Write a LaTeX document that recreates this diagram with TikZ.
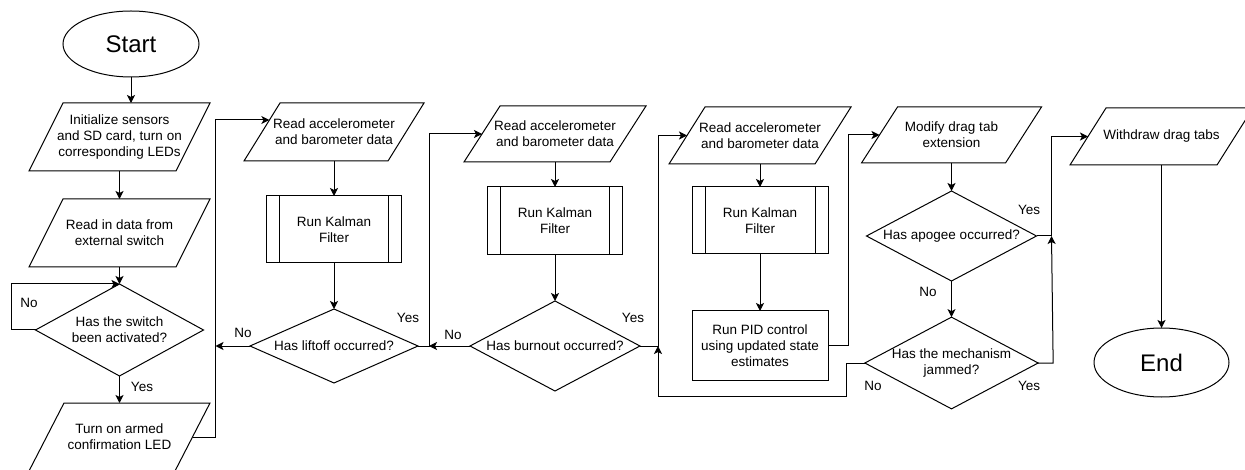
\documentclass[tikz,border=0pt]{standalone}
\usepackage{fontspec}
\setmainfont{Liberation Sans}
\usetikzlibrary{shapes.geometric,arrows.meta,calc}
\newcommand\dtxt{\fontsize{13.5}{16}\selectfont}
\newcommand\drawPara[2]{%
  \draw[outline] ([xshift=#2pt]#1.north west) -- ([xshift=#2pt]#1.north east) --
    ([xshift=-#2pt]#1.south east) -- ([xshift=-#2pt]#1.south west) -- cycle;}
\tikzset{
  outline/.style={draw=black, line width=1pt, line join=miter},
  conn/.style={draw=black, line width=1pt},
  arr/.style={conn, -{Stealth[length=8pt,width=8pt,inset=2pt]}},
  para/.style={rectangle, draw=none, inner sep=0pt, outer sep=0pt,
    minimum width=146pt, minimum height=#1, align=center, font=\dtxt},
  sub/.style={rectangle, draw=black, line width=1pt, inner sep=0pt, outer sep=0pt,
    minimum width=135pt, minimum height=68pt, align=center, font=\dtxt,
    path picture={\draw[line width=1pt]
      ([xshift=13pt]path picture bounding box.north west) -- ([xshift=13pt]path picture bounding box.south west)
      ([xshift=-13pt]path picture bounding box.north east) -- ([xshift=-13pt]path picture bounding box.south east);}},
  proc/.style={rectangle, draw=black, line width=1pt, inner sep=0pt, outer sep=0pt,
    minimum width=136pt, minimum height=69pt, align=center, font=\dtxt},
  dec/.style={diamond, draw=black, line width=1pt, inner sep=0pt, outer sep=0pt,
    align=center, font=\dtxt},
  term/.style={ellipse, draw=black, line width=1pt, inner sep=0pt, outer sep=0pt,
    minimum width=136pt, minimum height=66pt, font=\fontsize{24}{28}\selectfont},
  lab/.style={inner sep=0pt, font=\dtxt}
}
\begin{document}
\begin{tikzpicture}[x=1pt,y=-1pt]
\fill[white] (0,0) rectangle (1245,470);
\useasboundingbox (0,0) rectangle (1245,470);

% column 1
\node[term] (start) at (131,44) {Start};
\node[para=68pt, minimum width=147pt] (init) at (119.5,137) {Initialize sensors\\and SD card, turn on\\corresponding LEDs};
\drawPara{init}{17}
\node[para=68pt, minimum width=147pt] (readin) at (119.5,233) {Read in data from\\external switch};
\drawPara{readin}{17}
\node[dec, minimum width=168pt, minimum height=92pt, shape aspect=1.83] (switch) at (119.5,330) {Has the switch\\been activated?};
\node[para=68pt] (arm) at (119.5,437) {Turn on armed\\confirmation LED};
\drawPara{arm}{17.5}

% column 2
\node[para=58pt, minimum width=144pt] (read1) at (334,132) {Read accelerometer\\and barometer data};
\drawPara{read1}{18}
\node[sub, minimum height=67pt] (k1) at (334,229.5) {Run Kalman\\Filter};
\node[dec, minimum width=168pt, minimum height=74pt, shape aspect=2.27] (lift) at (334,346) {Has liftoff occurred?};

% column 3
\node[para=56pt] (read2) at (555,134) {Read accelerometer\\and barometer data};
\drawPara{read2}{18}
\node[sub] (k2) at (555,221) {Run Kalman\\Filter};
\node[dec, minimum width=170pt, minimum height=90pt, shape aspect=1.89] (burn) at (555,346) {Has burnout occurred?};

% column 4
\node[para=57pt] (read3) at (760,135.5) {Read accelerometer\\and barometer data};
\drawPara{read3}{18}
\node[sub, minimum width=136pt, minimum height=67pt] (k3) at (760,220.5) {Run Kalman\\Filter};
\node[proc] (pid) at (760,345.5) {Run PID control\\using updated state\\estimates};

% column 5
\node[para=56pt, minimum width=144pt] (modify) at (951.5,135) {Modify drag tab\\extension};
\drawPara{modify}{18}
\node[dec, minimum width=170pt, minimum height=90pt, shape aspect=1.89] (apogee) at (951.5,236) {Has apogee occurred?};
\node[dec, minimum width=170pt, minimum height=90pt, shape aspect=1.89] (jam) at (951.5,363) {Has the mechanism\\jammed?};

% column 6
\node[para=57pt, minimum width=147pt] (withdraw) at (1161.5,136.5) {Withdraw drag tabs};
\drawPara{withdraw}{18}
\node[term, minimum width=135pt, minimum height=69pt] (end) at (1161.5,362.5) {End};

% connectors column 1
\draw[arr] (start.south) -- (start.south |- init.north);
\draw[arr] (init.south) -- (readin.north);
\draw[arr] (readin.south) -- (switch.north);
\draw[arr] (switch.west) -- ++(-24,0) |- (switch.north);
\draw[arr] (switch.south) -- (arm.north);
\draw[arr] (arm.east) -- ++(23,0) coordinate (j1) |- ($(read1.west)+(7.4,-12)$);

% column 2
\draw[arr] (read1.south) -- (k1.north);
\draw[arr] (k1.south) -- (lift.north);
\draw[arr] (lift.west) -- (lift.west -| j1);
\draw[arr] (lift.east) -- ++(11,0) coordinate (j2) |- (read2.west);

% column 3
\draw[arr] (read2.south) -- (k2.north);
\draw[arr] (k2.south) -- (burn.north);
\draw[arr] (burn.west) -- (burn.west -| j2);
\draw[arr] (burn.east) -- ++(18,0) coordinate (j3) |- (read3.west);

% column 4
\draw[arr] (read3.south) -- (k3.north);
\draw[arr] (k3.south) -- (pid.north);
\draw[arr] (pid.east) -- ++(20,0) |- (modify.west);

% column 5
\draw[arr] (modify.south) -- (apogee.north);
\draw[arr] (apogee.south) -- (jam.north);
\draw[arr] (apogee.east) -- ++(15,0) coordinate (j4) |- (withdraw.west);
\draw[arr] (jam.east) -- ++(15,0) -- (j4);
\draw[arr] (jam.west) -- ++(-18,0) -- ++(0,33) -| (j3);

% column 6
\draw[arr] (withdraw.south) -- (end.north);

% labels
\node[lab] (lNo1) at (29,303) {No};
\node[lab] (lYes1) at (142,387) {Yes};
\node[lab] (lNo2) at (243,333) {No};
\node[lab] (lYes2) at (408,318) {Yes};
\node[lab] (lNo3) at (453,335) {No};
\node[lab] (lYes3) at (633,318) {Yes};
\node[lab] (lYes4) at (1029,210) {Yes};
\node[lab] (lNo4) at (928,292) {No};
\node[lab] (lNo5) at (873,386) {No};
\node[lab] (lYes5) at (1029,386) {Yes};
\end{tikzpicture}
\end{document}
